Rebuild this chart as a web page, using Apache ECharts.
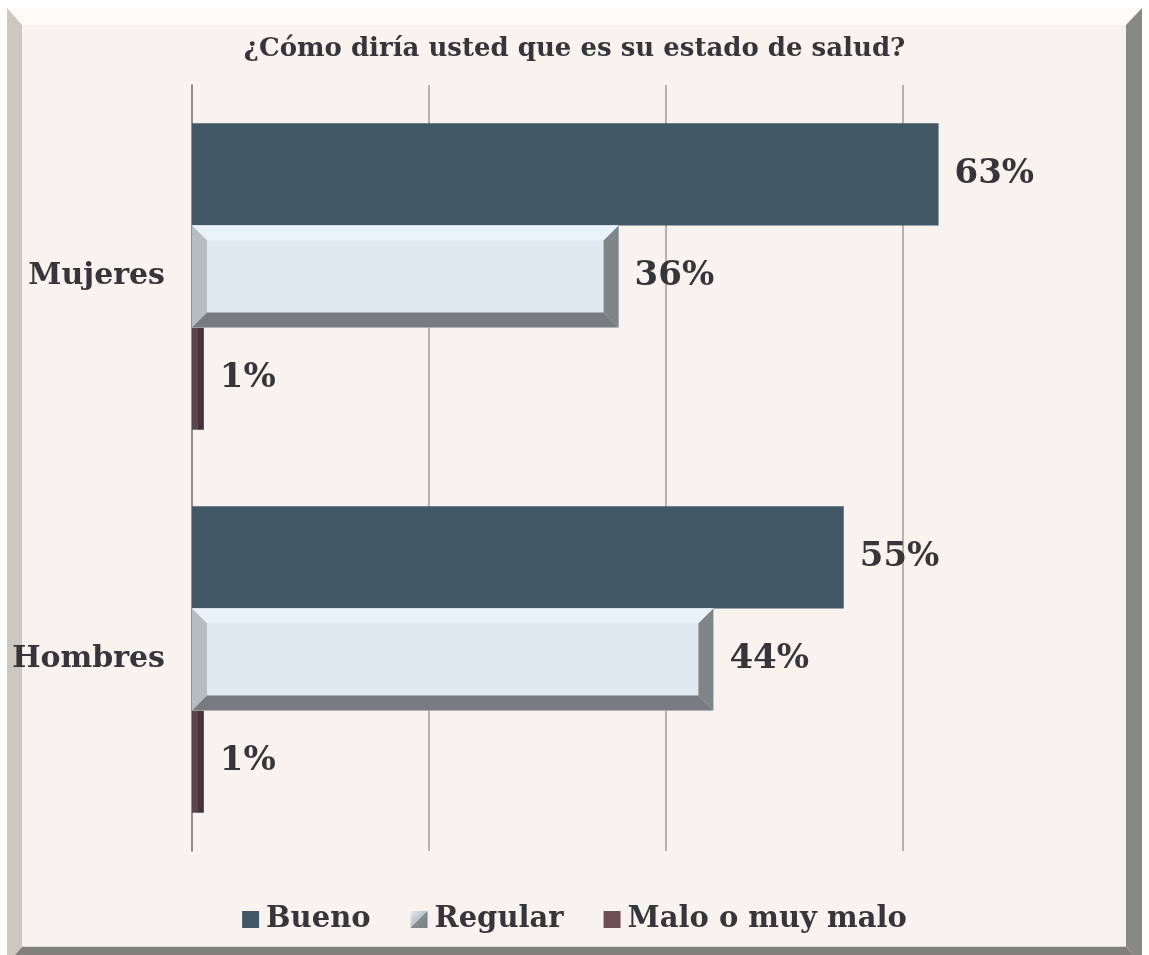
<!DOCTYPE html>
<html>
<head>
<meta charset="utf-8">
<script src="https://cdn.jsdelivr.net/npm/echarts@6/dist/echarts.min.js"></script>
<style>
html,body{margin:0;padding:0;background:#ffffff;}
#chart{width:1149px;height:955px;}
</style>
</head>
<body>
<div id="chart"></div>
<script>
const titleText = '¿Cómo diría usted que es su estado de salud?';
const categories = ['Mujeres', 'Hombres'];
const seriesNames = ['Bueno', 'Regular', 'Malo o muy malo'];
const bueno = [63, 55];
const regular = [36, 44];
const malo = [1, 1];
const axisTicks = [0, 20, 40, 60];

const FONT = "'DejaVu Serif', Georgia, serif";
const TXT = '#36363a';
const chart = echarts.init(document.getElementById('chart'));

const labelCfg = {
  show: true, position: 'right', distance: 16,
  formatter: p => p.value + '%',
  fontFamily: FONT, fontWeight: 'bold', fontSize: 34, color: TXT
};

function bevelItem(params, api) {
  const idx = api.value(0);
  const val = api.value(1);
  const c0 = api.coord([0, idx]);
  const c1 = api.coord([val, idx]);
  const band = api.size([0, 1])[1];
  const h = band * 0.8 / 3;
  const x0 = c0[0], x1 = c1[0];
  const y0 = c0[1] - h / 2, y1 = c0[1] + h / 2;
  const b = 15;
  return {
    type: 'group',
    children: [
      {type: 'rect', shape: {x: x0, y: y0, width: x1 - x0, height: h}, style: {fill: '#e0e8f0'}},
      {type: 'polygon', shape: {points: [[x0, y0], [x1, y0], [x1 - b, y0 + b], [x0 + b, y0 + b]]}, style: {fill: '#e8f2fb'}},
      {type: 'polygon', shape: {points: [[x0, y0], [x0 + b, y0 + b], [x0 + b, y1 - b], [x0, y1]]}, style: {fill: '#b4bdc4'}},
      {type: 'polygon', shape: {points: [[x1, y0], [x1, y1], [x1 - b, y1 - b], [x1 - b, y0 + b]]}, style: {fill: '#80858a'}},
      {type: 'polygon', shape: {points: [[x0, y1], [x1, y1], [x1 - b, y1 - b], [x0 + b, y1 - b]]}, style: {fill: '#787b80'}}
    ]
  };
}

const option = {
  backgroundColor: 'transparent',
  animation: false,
  graphic: [
    {type: 'rect', z: -10, shape: {x: 7, y: 8, width: 1135, height: 960}, style: {fill: '#f8f3ee'}},
    {type: 'polygon', z: -9, shape: {points: [[7, 8], [1142, 8], [1126, 25], [22, 25]]}, style: {fill: '#fcfaf5'}},
    {type: 'polygon', z: -9, shape: {points: [[7, 8], [22, 25], [22, 947], [7, 964]]}, style: {fill: '#ccc8c1'}},
    {type: 'polygon', z: -9, shape: {points: [[1142, 8], [1142, 964], [1126, 947], [1126, 25]]}, style: {fill: '#8a8884'}},
    {type: 'polygon', z: -9, shape: {points: [[22, 947], [1126, 947], [1142, 964], [7, 964]]}, style: {fill: '#82807b'}},
    {type: 'rect', z: -9, shape: {x: 22, y: 946, width: 1104, height: 1}, style: {fill: '#d8d3cb'}}
  ],
  title: {
    text: titleText, left: 'center', top: 31,
    textStyle: {fontFamily: FONT, fontWeight: 'bold', fontSize: 26, color: TXT}
  },
  legend: {
    left: 'center', top: 900, itemWidth: 17, itemHeight: 17, itemGap: 40,
    textStyle: {fontFamily: FONT, fontWeight: 'bold', fontSize: 29, color: TXT, padding: [0, 0, 0, 2]},
    data: [
      {name: 'Bueno', icon: 'rect'},
      {name: 'Regular', icon: 'rect', itemStyle: {color: {type: 'linear', x: 0, y: 0, x2: 1, y2: 1, colorStops: [
        {offset: 0, color: '#e4eef7'}, {offset: 0.5, color: '#b7c0c7'}, {offset: 0.5, color: '#878c91'}, {offset: 1, color: '#7a7e83'}]}}},
      {name: 'Malo o muy malo', icon: 'rect', itemStyle: {color: '#6e4f56'}}
    ]
  },
  grid: {left: 192, right: 246, top: 85, bottom: 104, containLabel: false},
  xAxis: {
    type: 'value', min: axisTicks[0], max: axisTicks[axisTicks.length - 1], interval: 20,
    axisLabel: {show: false}, axisLine: {show: false}, axisTick: {show: false},
    splitLine: {show: true, lineStyle: {color: '#9c9c9c', width: 1.5}}
  },
  yAxis: {
    type: 'category', data: categories, inverse: true,
    axisLine: {show: true, lineStyle: {color: '#8f8f8f', width: 2}},
    axisTick: {show: false},
    axisLabel: {margin: 27, fontFamily: FONT, fontWeight: 'bold', fontSize: 30, color: TXT}
  },
  series: [
    {name: seriesNames[0], type: 'bar', data: bueno, barGap: '0%', barCategoryGap: '20%', clip: false,
      itemStyle: {color: '#415766'}, label: labelCfg, z: 2},
    {name: seriesNames[1], type: 'bar', data: regular, clip: false,
      itemStyle: {color: '#e0e8f0'}, label: labelCfg, z: 2},
    {name: seriesNames[2], type: 'bar', data: malo, clip: false,
      itemStyle: {color: {type: 'linear', x: 0, y: 0, x2: 1, y2: 0, colorStops: [
        {offset: 0, color: '#5c454c'}, {offset: 0.5, color: '#5c454c'}, {offset: 0.5, color: '#45323a'}, {offset: 1, color: '#45323a'}]}},
      label: labelCfg, z: 2},
    {name: 'regularBevel', type: 'custom', renderItem: bevelItem, clip: false, z: 3, silent: true,
      data: regular.map((v, i) => [i, v]), encode: {x: 1, y: 0}}
  ]
};
chart.setOption(option);
</script>
</body>
</html>
